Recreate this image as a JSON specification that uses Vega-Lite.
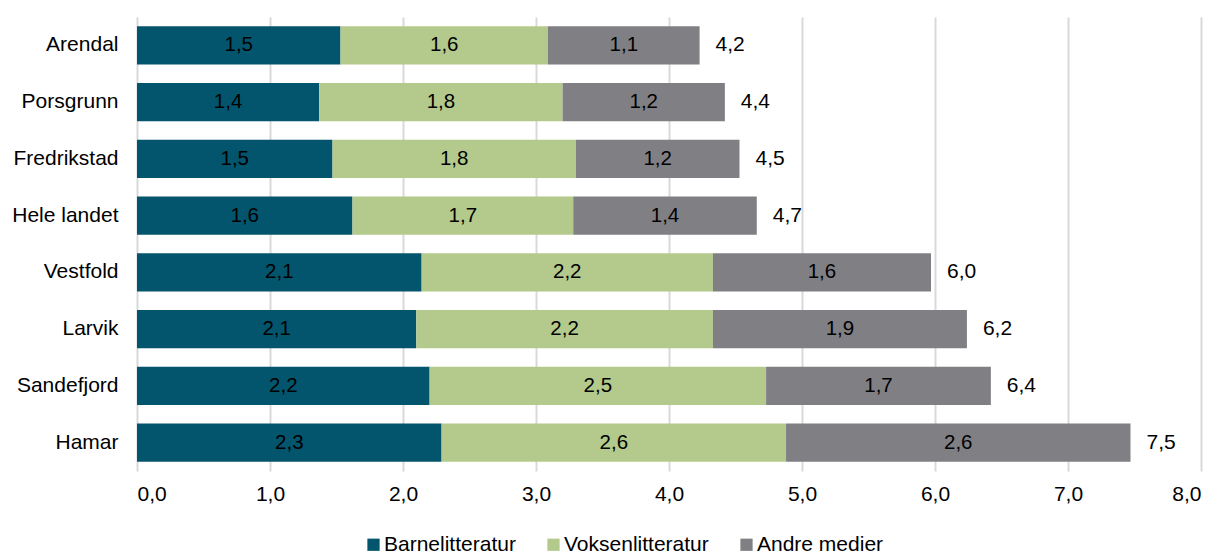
{
  "$schema": "https://vega.github.io/schema/vega-lite/v6.json",
  "width": 1064,
  "height": 454,
  "autosize": {"type": "none"},
  "padding": {"left": 137, "top": 17, "right": 18, "bottom": 83},
  "data": {
    "values": [
      {"city": "Arendal", "type": "Barnelitteratur", "o": 1, "value": 1.53},
      {"city": "Arendal", "type": "Voksenlitteratur", "o": 2, "value": 1.56},
      {"city": "Arendal", "type": "Andre medier", "o": 3, "value": 1.14},
      {"city": "Porsgrunn", "type": "Barnelitteratur", "o": 1, "value": 1.37},
      {"city": "Porsgrunn", "type": "Voksenlitteratur", "o": 2, "value": 1.83},
      {"city": "Porsgrunn", "type": "Andre medier", "o": 3, "value": 1.22},
      {"city": "Fredrikstad", "type": "Barnelitteratur", "o": 1, "value": 1.47},
      {"city": "Fredrikstad", "type": "Voksenlitteratur", "o": 2, "value": 1.83},
      {"city": "Fredrikstad", "type": "Andre medier", "o": 3, "value": 1.23},
      {"city": "Hele landet", "type": "Barnelitteratur", "o": 1, "value": 1.62},
      {"city": "Hele landet", "type": "Voksenlitteratur", "o": 2, "value": 1.66},
      {"city": "Hele landet", "type": "Andre medier", "o": 3, "value": 1.38},
      {"city": "Vestfold", "type": "Barnelitteratur", "o": 1, "value": 2.14},
      {"city": "Vestfold", "type": "Voksenlitteratur", "o": 2, "value": 2.19},
      {"city": "Vestfold", "type": "Andre medier", "o": 3, "value": 1.64},
      {"city": "Larvik", "type": "Barnelitteratur", "o": 1, "value": 2.10},
      {"city": "Larvik", "type": "Voksenlitteratur", "o": 2, "value": 2.23},
      {"city": "Larvik", "type": "Andre medier", "o": 3, "value": 1.91},
      {"city": "Sandefjord", "type": "Barnelitteratur", "o": 1, "value": 2.20},
      {"city": "Sandefjord", "type": "Voksenlitteratur", "o": 2, "value": 2.53},
      {"city": "Sandefjord", "type": "Andre medier", "o": 3, "value": 1.69},
      {"city": "Hamar", "type": "Barnelitteratur", "o": 1, "value": 2.29},
      {"city": "Hamar", "type": "Voksenlitteratur", "o": 2, "value": 2.59},
      {"city": "Hamar", "type": "Andre medier", "o": 3, "value": 2.59}
    ]
  },
  "transform": [
    {"stack": "value", "groupby": ["city"], "sort": [{"field": "o", "order": "ascending"}], "as": ["v0", "v1"]}
  ],
  "encoding": {
    "y": {
      "field": "city",
      "type": "nominal",
      "sort": ["Arendal", "Porsgrunn", "Fredrikstad", "Hele landet", "Vestfold", "Larvik", "Sandefjord", "Hamar"],
      "scale": {"paddingInner": 0.33, "paddingOuter": 0.165},
      "axis": {"title": null, "domain": false, "ticks": false, "grid": false, "labelFontSize": 21, "labelPadding": 19, "labelColor": "#000000", "labelFont": "Liberation Sans"}
    }
  },
  "layer": [
    {
      "mark": {"type": "bar"},
      "encoding": {
        "x": {
          "field": "v0",
          "type": "quantitative",
          "scale": {"domain": [0, 8], "nice": false},
          "axis": {"title": null, "values": [0, 1, 2, 3, 4, 5, 6, 7, 8], "format": ".1f", "domain": false, "ticks": false, "grid": true, "gridColor": "#d9d9d9", "gridWidth": 2, "labelFontSize": 21, "labelPadding": 12, "labelColor": "#000000", "labelFont": "Liberation Sans"}
        },
        "x2": {"field": "v1"},
        "color": {
          "field": "type",
          "type": "nominal",
          "scale": {"domain": ["Barnelitteratur", "Voksenlitteratur", "Andre medier"], "range": ["#02556d", "#b3ca8c", "#807f84"]},
          "legend": {"title": null, "orient": "none", "legendX": 226, "legendY": 517, "direction": "horizontal", "symbolType": "square", "symbolSize": 150, "symbolStrokeWidth": 0, "labelFontSize": 21, "labelFont": "Liberation Sans", "labelColor": "#000000", "columnPadding": 27, "labelOffset": 0}
        }
      }
    },
    {
      "transform": [{"fold": ["v0", "v1"], "as": ["k", "pos"]}],
      "mark": {"type": "text", "fontSize": 20.5, "font": "Liberation Sans", "color": "#000000", "baseline": "middle", "align": "center"},
      "encoding": {
        "x": {"aggregate": "mean", "field": "pos", "type": "quantitative", "stack": null},
        "detail": {"field": "type", "type": "nominal"},
        "text": {"aggregate": "mean", "field": "value", "type": "quantitative", "format": ".1f"}
      }
    },
    {
      "mark": {"type": "text", "fontSize": 21, "font": "Liberation Sans", "color": "#000000", "baseline": "middle", "align": "left", "dx": 16},
      "encoding": {
        "x": {"aggregate": "sum", "field": "value", "type": "quantitative", "stack": null},
        "text": {"aggregate": "sum", "field": "value", "type": "quantitative", "format": ".1f"}
      }
    }
  ],
  "config": {
    "locale": {"number": {"decimal": ",", "thousands": " ", "grouping": [3], "currency": ["", " kr"]}},
    "view": {"stroke": null},
    "font": "Liberation Sans"
  }
}
